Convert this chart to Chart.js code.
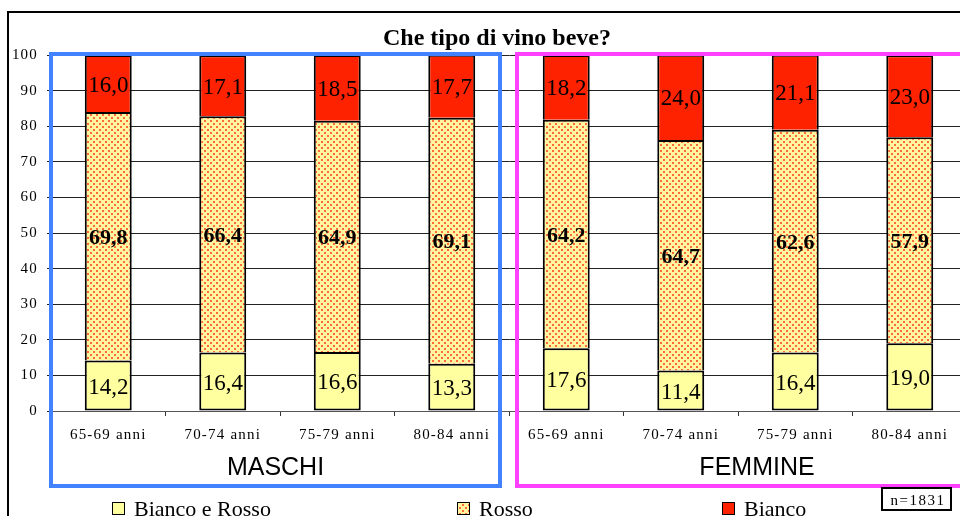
<!DOCTYPE html>
<html>
<head>
<meta charset="utf-8">
<script src="https://cdn.jsdelivr.net/npm/chart.js@4"></script>
<style>
html, body { margin: 0; padding: 0; background: #fff; overflow: hidden; }
#wrap { width: 960px; height: 516px; overflow: hidden; }
</style>
</head>
<body>
<div id="wrap"><canvas id="chart" width="967" height="516"></canvas></div>
<script>
// dati
const categories = ['65-69 anni', '70-74 anni', '75-79 anni', '80-84 anni',
                    '65-69 anni', '70-74 anni', '75-79 anni', '80-84 anni'];
const groupNames = ['MASCHI', 'FEMMINE'];
const groupSize = 4;
const seriesNames = ['Bianco e Rosso', 'Rosso', 'Bianco'];
const biancoRosso = [14.2, 16.4, 16.6, 13.3, 17.6, 11.4, 16.4, 19.0];
const rosso = [69.8, 66.4, 64.9, 69.1, 64.2, 64.7, 62.6, 57.9];
const bianco = [16.0, 17.1, 18.5, 17.7, 18.2, 24.0, 21.1, 23.0];
const chartTitle = 'Che tipo di vino beve?';
const sampleNote = 'n=1831';

const SERIF = '"Liberation Serif", "Times New Roman", serif';
const SANS = '"Liberation Sans", Arial, sans-serif';

// motivo a puntini per "Rosso"
function makeDots() {
    let c = document.createElement('canvas');
    c.width = 6; c.height = 6;
    let g = c.getContext('2d');
    g.fillStyle = '#fff5a0';
    g.fillRect(0, 0, 6, 6);
    g.fillStyle = '#ff6a3a';
    g.fillRect(0, 0, 2, 2);
    g.fillRect(3, 3, 2, 2);
    return g.createPattern(c, 'repeat');
}
const dots = makeDots();
const colors = ['#ffffa0', dots, '#ff2200'];

// spaziatura lettere per le etichette degli assi
const spacing = {
    id: 'spacing',
    beforeDraw(chart) { chart.ctx.letterSpacing = '1.2px'; },
    beforeDatasetsDraw(chart) { chart.ctx.letterSpacing = '0px'; }
};

// valori dentro le barre
const valueLabels = {
    id: 'valueLabels',
    afterDatasetsDraw(chart) {
        let ctx = chart.ctx;
        ctx.save();
        ctx.fillStyle = '#000';
        ctx.textAlign = 'center';
        ctx.textBaseline = 'middle';
        chart.data.datasets.forEach(function(ds, i) {
            let meta = chart.getDatasetMeta(i);
            ctx.font = (i === 1 ? 'bold 22px ' : '23px ') + SERIF;
            meta.data.forEach(function(bar, j) {
                let y = (bar.y + bar.base) / 2 + 2;
                ctx.fillText(ds.data[j].toFixed(1).replace('.', ','), bar.x, y);
            });
        });
        ctx.restore();
    }
};

// cornice, titolo, riquadri dei gruppi, legenda
const decorations = {
    id: 'decorations',
    afterDraw(chart) {
        let ctx = chart.ctx;
        let area = chart.chartArea;
        let xs = chart.scales.x;
        ctx.save();

        // cornice
        ctx.strokeStyle = '#000';
        ctx.lineWidth = 2;
        ctx.beginPath();
        ctx.moveTo(8, 516);
        ctx.lineTo(8, 12);
        ctx.lineTo(chart.width, 12);
        ctx.stroke();

        // titolo
        ctx.fillStyle = '#000';
        ctx.font = 'bold 24px ' + SERIF;
        ctx.textAlign = 'center';
        ctx.textBaseline = 'alphabetic';
        ctx.fillText(chartTitle, 497, 45);

        // riquadri MASCHI / FEMMINE
        let boxColors = ['#4282ff', '#ff40ff'];
        let half = (xs.getPixelForValue(1) - xs.getPixelForValue(0)) / 2;
        let split = xs.getPixelForValue(groupSize - 1) + half;
        let boxes = [
            [area.left, split - 9],
            [split + 8, area.right + 30]
        ];
        ctx.lineWidth = 4;
        boxes.forEach(function(b, i) {
            ctx.strokeStyle = boxColors[i];
            ctx.strokeRect(b[0], area.top - 1, b[1] - b[0], 487 - area.top);
            ctx.font = '25px ' + SANS;
            ctx.fillStyle = '#000';
            ctx.textAlign = 'center';
            ctx.fillText(groupNames[i], (b[0] + b[1]) / 2, 475);
        });

        // legenda
        let legendX = [112, 457, 722];
        ctx.font = '22px ' + SERIF;
        ctx.textAlign = 'left';
        ctx.lineWidth = 1;
        chart.data.datasets.forEach(function(ds, i) {
            let x = legendX[i];
            ctx.fillStyle = ds.backgroundColor;
            ctx.fillRect(x, 502, 12, 12);
            ctx.strokeStyle = '#000';
            ctx.strokeRect(x + 0.5, 502.5, 12, 12);
            ctx.fillStyle = '#000';
            ctx.fillText(ds.label, x + 22, 516);
        });

        // numerosita campione
        ctx.lineWidth = 2;
        ctx.strokeRect(882, 488, 69, 22);
        ctx.font = '15px ' + SERIF;
        ctx.letterSpacing = '1.5px';
        ctx.textAlign = 'center';
        ctx.fillText(sampleNote, 918, 505);
        ctx.restore();
    }
};

let ctx = document.getElementById('chart').getContext('2d');
let chart = new Chart(ctx, {
    type: 'bar',
    data: {
        labels: categories,
        datasets: [biancoRosso, rosso, bianco].map(function(values, i) {
            return {
                label: seriesNames[i],
                data: values,
                backgroundColor: colors[i],
                borderColor: '#000',
                borderWidth: 2,
                // solo il segmento in basso ha il bordo inferiore
                borderSkipped: i === 0 ? false : 'start',
                barPercentage: 0.41,
                categoryPercentage: 1.0
            };
        })
    },
    options: {
        responsive: false,
        animation: false,
        devicePixelRatio: 1,
        events: [],
        layout: { padding: { top: 55, left: 0, right: 0, bottom: 0 } },
        plugins: {
            legend: { display: false },
            title: { display: false },
            tooltip: { enabled: false }
        },
        scales: {
            x: {
                stacked: true,
                offset: true,
                grid: { offset: true, drawOnChartArea: false, drawTicks: true, tickLength: 5, color: '#333' },
                border: { display: true, color: '#555', width: 1 },
                ticks: {
                    color: '#000',
                    font: { family: SERIF, size: 15 },
                    padding: 10,
                    maxRotation: 0,
                    autoSkip: false
                },
                afterFit(scale) { scale.height = 105; }
            },
            y: {
                stacked: true,
                min: 0,
                max: 100,
                grid: { color: '#222', lineWidth: 1, tickLength: 4 },
                border: { display: true, color: '#555' },
                ticks: {
                    stepSize: 10,
                    color: '#000',
                    font: { family: SERIF, size: 15 },
                    padding: 9
                },
                afterFit(scale) { scale.width = 51; }
            }
        }
    },
    plugins: [spacing, valueLabels, decorations]
});
</script>
</body>
</html>
